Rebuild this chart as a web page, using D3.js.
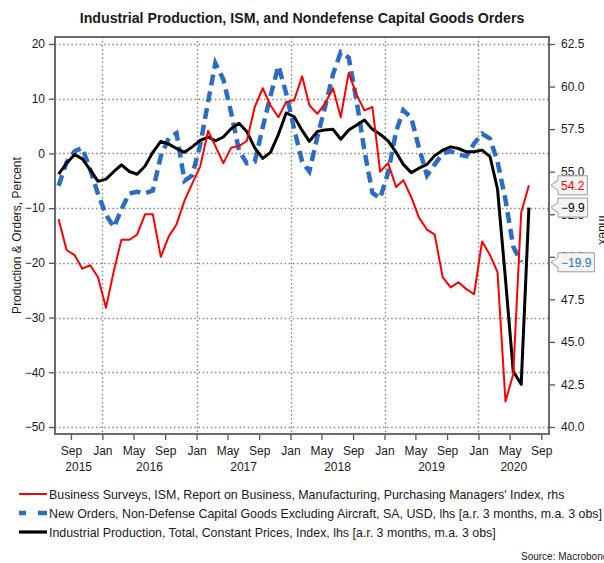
<!DOCTYPE html>
<html>
<head>
<meta charset="utf-8">
<script src="https://cdn.jsdelivr.net/npm/d3@7"></script>
<style>
  body { margin: 0; background: #fff; }
  svg text { font-family: "Liberation Sans", Arial, sans-serif; fill: #1a1a1a; }
</style>
</head>
<body>
<svg id="chart" width="604" height="563"></svg>
<script>
// monthly values, Jul 2015 onwards
const startMonth = new Date(2015, 6, 15);

// ISM manufacturing PMI (rhs), Jul 2015 - Jul 2020
const ismValues = [
  52.2, 50.4, 50.1, 49.3, 49.5, 48.8,
  47.0, 49.2, 51.0, 51.0, 51.3, 52.5, 52.5, 50.0, 51.2, 51.9, 53.3, 54.3,
  55.3, 57.4, 56.5, 55.5, 56.4, 56.5, 56.8, 58.8, 59.9, 58.9, 58.2, 59.1,
  59.2, 60.6, 58.9, 58.4, 59.0, 59.9, 58.2, 60.8, 59.5, 58.6, 58.8, 55.0,
  55.5, 54.1, 54.5, 53.5, 52.3, 51.6, 51.3, 48.8, 48.2, 48.5, 48.1, 47.8,
  50.9, 50.1, 49.1, 41.5, 43.1, 52.6, 54.2
];

// Nondefense capital goods orders ex aircraft (lhs), Jul 2015 - Jun 2020
const ordersValues = [
  -5.9, -1.6, 0.4, 1.0, -3.0, -7.4,
  -11.2, -13.5, -10.2, -7.3, -7.0, -7.3, -6.8, -0.5, 2.8, 3.7, -5.0, -4.0,
  1.5, 9.5, 16.5, 13.5, 7.5, 0.5, -1.8, -1.5, 4.8, 10.5, 16.0, 11.0,
  4.5, -1.5, -3.3, 3.0, 8.5, 14.5, 18.5, 17.5, 9.5, 0.5, -7.2, -8.2,
  -3.5, 4.0, 7.9, 6.5, 1.0, -4.0, -2.0, 0.0, 0.4, -0.2, -0.5, 1.8,
  3.6, 2.7, -1.5, -8.5, -17.0, -19.9
];

// Industrial production (lhs), Jul 2015 - Jul 2020
const ipValues = [
  -3.8, -1.8, -0.2, -1.0, -3.0, -5.1,
  -4.7, -3.3, -2.1, -3.3, -3.8, -2.3, 0.2, 2.2, 1.7, 0.9, 0.2, 1.2,
  2.4, 3.0, 2.3, 3.0, 4.5, 5.5, 4.0, 1.0, -0.9, 0.2, 3.5, 7.4,
  6.7, 4.2, 2.2, 4.0, 4.3, 4.4, 2.6, 4.3, 5.2, 6.1, 4.4, 3.5,
  2.3, 0.2, -2.0, -3.5, -2.7, -2.0, -0.4, 0.6, 1.2, 0.9, 0.3, 0.3,
  0.6, -0.6, -6.5, -23.0, -39.8, -42.2, -9.9
];

const leftTicks = [-50, -40, -30, -20, -10, 0, 10, 20];
const rightTicks = [40, 42.5, 45, 47.5, 50, 52.5, 55, 57.5, 60, 62.5];
const yearLabels = [2015, 2016, 2017, 2018, 2019, 2020];

const legendLabels = [
  "Business Surveys, ISM, Report on Business, Manufacturing, Purchasing Managers' Index, rhs",
  "New Orders, Non-Defense Capital Goods Excluding Aircraft, SA, USD, lhs [a.r. 3 months, m.a. 3 obs]",
  "Industrial Production, Total, Constant Prices, Index, lhs [a.r. 3 months, m.a. 3 obs]"
];

const RED = "#ff0000", BLUE = "#2c6dc4", BLACK = "#000000";

const svg = d3.select("#chart");
const plot = { left: 55, right: 549, top: 37, bottom: 434 };

const toSeries = vals => vals.map((v, i) => ({ date: d3.timeMonth.offset(startMonth, i), value: v }));
const ism = toSeries(ismValues);
const orders = toSeries(ordersValues);
const ip = toSeries(ipValues);

const x = d3.scaleTime()
  .domain([new Date(2015, 6, 1), new Date(2020, 9, 1)])
  .range([plot.left, plot.right]);

const yL = d3.scaleLinear().domain([-51.28, 21.28]).range([plot.bottom, plot.top]);
// right axis: 40 <-> -50, 62.5 <-> 20
const l2r = v => 40 + (v + 50) * 22.5 / 70;
const yR = d3.scaleLinear().domain([l2r(-51.28), l2r(21.28)]).range([plot.bottom, plot.top]);

// title
svg.append("text")
  .attr("x", 302).attr("y", 23)
  .attr("text-anchor", "middle")
  .style("font-size", "14.2px").style("font-weight", "bold")
  .text("Industrial Production, ISM, and Nondefense Capital Goods Orders");

// grid
const grid = svg.append("g")
  .attr("stroke", "#858585").attr("stroke-width", 1.4)
  .attr("stroke-dasharray", "1.5,2.6");
grid.selectAll("line.h").data(leftTicks).join("line")
  .attr("x1", plot.left).attr("x2", plot.right)
  .attr("y1", d => Math.round(yL(d)) + 0.5).attr("y2", d => Math.round(yL(d)) + 0.5);
const janTicks = d3.timeYear.range(new Date(2016, 0, 1), new Date(2020, 1, 1));
grid.selectAll("line.v").data(janTicks).join("line")
  .attr("x1", d => Math.round(x(d)) + 0.5).attr("x2", d => Math.round(x(d)) + 0.5)
  .attr("y1", plot.top).attr("y2", plot.bottom);

// axes
const axisStyle = g => {
  g.select(".domain").remove();
  g.selectAll(".tick line").attr("stroke", "#555").attr("stroke-width", 1.3);
  g.selectAll(".tick text").style("font-size", "12px").attr("fill", "#1a1a1a")
    .style("font-family", "'Liberation Sans', Arial, sans-serif");
};

svg.append("g")
  .attr("transform", `translate(${plot.left},0)`)
  .call(d3.axisLeft(yL).tickValues(leftTicks).tickSize(6).tickPadding(4))
  .call(axisStyle);

svg.append("g")
  .attr("transform", `translate(${plot.right},0)`)
  .call(d3.axisRight(yR).tickValues(rightTicks).tickSize(6).tickPadding(6).tickFormat(d3.format(".1f")))
  .call(axisStyle);

const monthTicks = d3.timeMonth.every(4).range(new Date(2015, 7, 1), new Date(2020, 9, 1));
svg.append("g")
  .attr("transform", `translate(0,${plot.bottom})`)
  .call(d3.axisBottom(x).tickValues(monthTicks).tickSize(6).tickPadding(6).tickFormat(d3.timeFormat("%b")))
  .call(axisStyle);

// year labels centred on the visible part of each year
const [d0, d1] = x.domain();
svg.append("g").selectAll("text").data(yearLabels).join("text")
  .attr("x", yr => {
    const a = Math.max(+new Date(yr, 0, 1), +d0);
    const b = Math.min(+new Date(yr + 1, 0, 1), +d1);
    return x(new Date((a + b) / 2));
  })
  .attr("y", 471)
  .attr("text-anchor", "middle")
  .style("font-size", "12px")
  .text(d => d);

// axis titles
svg.append("text")
  .attr("transform", `translate(21,${(plot.top + plot.bottom) / 2}) rotate(-90)`)
  .attr("text-anchor", "middle")
  .style("font-size", "12px")
  .text("Production & Orders, Percent");

svg.append("text")
  .attr("transform", `translate(599,230) rotate(90)`)
  .attr("text-anchor", "middle")
  .style("font-size", "12px")
  .text("Index");

// lines
const lineL = d3.line().x(d => x(d.date)).y(d => yL(d.value));
const lineR = d3.line().x(d => x(d.date)).y(d => yR(d.value));

svg.append("path").datum(orders)
  .attr("d", lineL).attr("fill", "none")
  .attr("stroke", BLUE).attr("stroke-width", 4.5)
  .attr("stroke-dasharray", "11,6");

svg.append("path").datum(ip)
  .attr("d", lineL).attr("fill", "none")
  .attr("stroke", BLACK).attr("stroke-width", 3).attr("stroke-linejoin", "round");

svg.append("path").datum(ism)
  .attr("d", lineR).attr("fill", "none")
  .attr("stroke", RED).attr("stroke-width", 2).attr("stroke-linejoin", "round");

// plot frame
svg.append("rect")
  .attr("x", plot.left).attr("y", plot.top)
  .attr("width", plot.right - plot.left).attr("height", plot.bottom - plot.top)
  .attr("fill", "none").attr("stroke", "#6b6b6b").attr("stroke-width", 2);

// last-value tags
const tags = [
  { value: ismValues[ismValues.length - 1], y: yR(ismValues[ismValues.length - 1]), color: RED },
  { value: ipValues[ipValues.length - 1], y: yL(ipValues[ipValues.length - 1]), color: BLACK },
  { value: ordersValues[ordersValues.length - 1], y: yL(ordersValues[ordersValues.length - 1]), color: BLUE }
];
const tagG = svg.append("g");
tags.forEach(t => {
  const g = tagG.append("g");
  const txt = g.append("text")
    .attr("x", 561).attr("y", t.y + 4.5)
    .style("font-size", "12px")
    .style("fill", t.color)
    .text(d3.format(".1f")(t.value));
  const w = txt.node().getComputedTextLength();
  const bx = 558, bx2 = 561 + w + 3, h = 9.5;
  g.insert("path", "text")
    .attr("d", `M551,${t.y} L${bx},${t.y - 5} L${bx},${t.y - h} L${bx2},${t.y - h} L${bx2},${t.y + h} L${bx},${t.y + h} L${bx},${t.y + 5} Z`)
    .attr("fill", "#f4f4f4").attr("stroke", "#9c9c9c").attr("stroke-width", 1);
});

// legend
const legend = svg.append("g");
const legendStyles = [
  { color: RED, width: 2, dash: null },
  { color: BLUE, width: 4.5, dash: "7,12,9" },
  { color: BLACK, width: 3.2, dash: null }
];
legendLabels.forEach((label, i) => {
  const y = 494 + i * 19;
  const s = legendStyles[i];
  legend.append("line")
    .attr("x1", 19).attr("x2", 47).attr("y1", y).attr("y2", y)
    .attr("stroke", s.color).attr("stroke-width", s.width)
    .attr("stroke-dasharray", s.dash);
  legend.append("text")
    .attr("x", 49).attr("y", y + 4.5)
    .style("font-size", "12.4px")
    .text(label);
});

svg.append("text")
  .attr("x", 521).attr("y", 560)
  .style("font-size", "10px")
  .text("Source: Macrobond");
</script>
</body>
</html>
